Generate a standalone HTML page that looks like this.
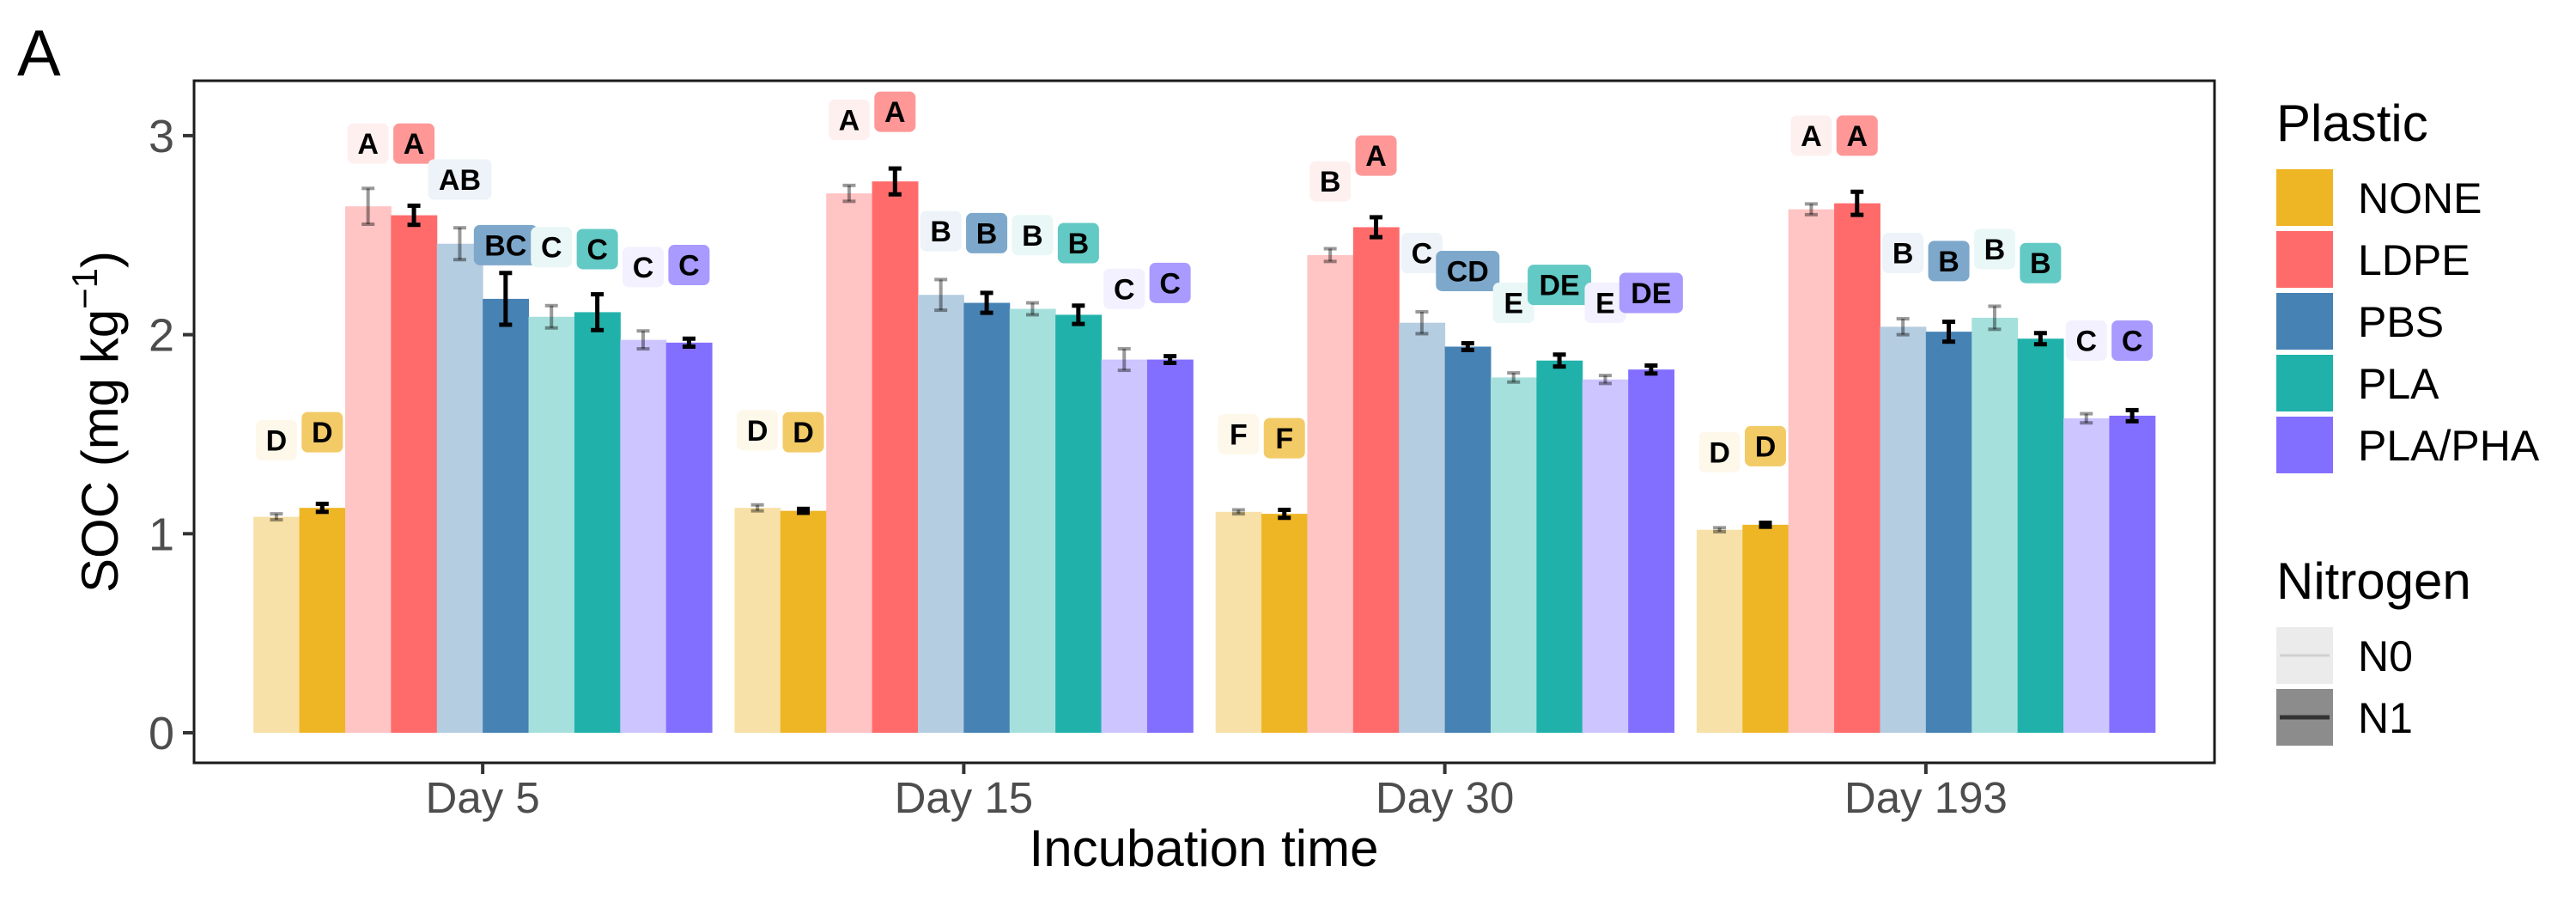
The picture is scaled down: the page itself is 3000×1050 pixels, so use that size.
<!DOCTYPE html>
<html><head><meta charset="utf-8">
<style>
html,body{margin:0;padding:0;background:#fff;}
svg{display:block;font-family:"Liberation Sans",Arial,sans-serif;}
</style></head>
<body>
<svg id="chart" width="3000" height="1050" viewBox="0 0 3000 1050" xmlns="http://www.w3.org/2000/svg">
  <rect x="0" y="0" width="3000" height="1050" fill="#fff"/>
  <text x="20" y="88" font-size="76" fill="#000">A</text>
  <g id="plot"></g>
  <rect x="226" y="94" width="2353" height="794" fill="none" stroke="#1a1a1a" stroke-width="3"/>
  <text transform="translate(137,491) rotate(-90)" text-anchor="middle" font-size="60" fill="#000">SOC (mg kg<tspan dy="-24" font-size="42">−1</tspan><tspan dy="24">)</tspan></text>
  <text x="1402" y="1008" text-anchor="middle" font-size="60" fill="#000">Incubation time</text>
  <g id="legend">
    <text x="2651" y="164" font-size="60" fill="#000">Plastic</text>
    <text x="2651" y="697" font-size="60" fill="#000">Nitrogen</text>
    <rect x="2651" y="730" width="66" height="66" fill="#ebebeb"/>
    <line x1="2655" y1="763" x2="2713" y2="763" stroke="#d0d0d0" stroke-width="3"/>
    <text x="2746" y="781" font-size="50" fill="#000">N0</text>
    <rect x="2651" y="802" width="66" height="66" fill="#8c8c8c"/>
    <line x1="2655" y1="835" x2="2713" y2="835" stroke="#333" stroke-width="5"/>
    <text x="2746" y="853" font-size="50" fill="#000">N1</text>
  </g>
</svg>
<script>
const days = ["Day 5","Day 15","Day 30","Day 193"];
const plastics = ["NONE","LDPE","PBS","PLA","PLA/PHA"];
const nitrogen = ["N0","N1"];
const plasticColors = ["#EEB525","#FF6B6B","#4682B4","#20B2AA","#836FFF"];
const yTicks = [0,1,2,3];
// order per day: NONE N0, NONE N1, LDPE N0, LDPE N1, PBS N0, PBS N1, PLA N0, PLA N1, PHA N0, PHA N1
const meanDay5   = [1.085,1.13,2.645,2.60,2.457,2.18,2.09,2.113,1.974,1.96];
const meanDay15  = [1.13,1.115,2.71,2.77,2.20,2.16,2.13,2.10,1.875,1.875];
const meanDay30  = [1.11,1.10,2.40,2.54,2.06,1.94,1.785,1.87,1.775,1.825];
const meanDay193 = [1.02,1.045,2.63,2.66,2.04,2.015,2.085,1.98,1.58,1.593];
const seDay5   = [0.015,0.02,0.09,0.048,0.08,0.13,0.056,0.09,0.045,0.02];
const seDay15  = [0.015,0.01,0.04,0.065,0.077,0.05,0.03,0.046,0.054,0.017];
const seDay30  = [0.01,0.02,0.032,0.05,0.055,0.017,0.023,0.03,0.02,0.02];
const seDay193 = [0.01,0.01,0.027,0.058,0.04,0.05,0.058,0.028,0.023,0.028];
const letterDay5   = ["D","D","A","A","AB","BC","C","C","C","C"];
const letterDay15  = ["D","D","A","A","B","B","B","B","C","C"];
const letterDay30  = ["F","F","B","A","C","CD","E","DE","E","DE"];
const letterDay193 = ["D","D","A","A","B","B","B","B","C","C"];
const labelYDay5   = [1.47,1.51,2.96,2.96,2.78,2.45,2.44,2.43,2.34,2.35];
const labelYDay15  = [1.52,1.51,3.08,3.12,2.52,2.51,2.50,2.46,2.23,2.26];
const labelYDay30  = [1.50,1.48,2.77,2.90,2.41,2.32,2.16,2.25,2.16,2.21];
const labelYDay193 = [1.41,1.44,3.00,3.00,2.41,2.37,2.43,2.36,1.97,1.97];

const means = [meanDay5,meanDay15,meanDay30,meanDay193];
const ses = [seDay5,seDay15,seDay30,seDay193];
const letters = [letterDay5,letterDay15,letterDay30,letterDay193];
const labelYs = [labelYDay5,labelYDay15,labelYDay30,labelYDay193];

const NS = "http://www.w3.org/2000/svg";
const PL = 226, PR = 2579, PT = 94, PB = 888;
const Y0 = 853, YUNIT = 231.7;
const yScale = v => Y0 - v * YUNIT;
const band = (PR - PL) / (days.length + 0.2);
const xCenter = i => PL + band * (0.6 + i);
const groupW = band * 0.953;
const barW = groupW / 10;
const xBar = (d, k) => xCenter(d) - groupW / 2 + k * barW;

function mk(tag, attrs, parent) {
  const el = document.createElementNS(NS, tag);
  for (const k in attrs) el.setAttribute(k, attrs[k]);
  parent.appendChild(el);
  return el;
}
function rgba(hex, a) {
  const r = parseInt(hex.slice(1,3),16), g = parseInt(hex.slice(3,5),16), b = parseInt(hex.slice(5,7),16);
  const m = c => Math.round(c * a + 255 * (1 - a));
  return "rgb(" + m(r) + "," + m(g) + "," + m(b) + ")";
}
const svg = document.getElementById("chart");
const plot = document.getElementById("plot");

yTicks.forEach(t => {
  const y = yScale(t);
  const ln = mk("line", {x1: 213, x2: 226, y1: y, y2: y, stroke: "#333", "stroke-width": 4}, svg);
  
  
  const tx = mk("text", {x: 203, y: y + 19, "text-anchor": "end", "font-size": 54, fill: "#4d4d4d"}, svg);
  tx.textContent = t;
  
  
});
days.forEach((d, i) => {
  const x = xCenter(i);
  const ln = mk("line", {x1: x, x2: x, y1: 888, y2: 901, stroke: "#333", "stroke-width": 4}, svg);
  
  
  const tx = mk("text", {x: x, y: 946, "text-anchor": "middle", "font-size": 51, fill: "#4d4d4d"}, svg);
  tx.textContent = d;
  
  
});

days.forEach((d, di) => {
  for (let k = 0; k < 10; k++) {
    const p = Math.floor(k / 2), n = k % 2;
    const col = plasticColors[p];
    const v = means[di][k], se = ses[di][k];
    const x = xBar(di, k);
    const fill = n === 0 ? rgba(col, 0.4) : col;
    const bar = mk("rect", {x: x, y: yScale(v), width: barW + 0.5, height: yScale(0) - yScale(v), fill: fill}, plot);
    
    
    const cx = x + barW / 2;
    const ec = n === 0 ? "rgba(0,0,0,0.4)" : "#000";
    const ew = n === 0 ? 4 : 5;
    const g = mk("g", {stroke: ec, "stroke-width": ew}, plot);
    
    
    mk("line", {x1: cx, x2: cx, y1: yScale(v + se), y2: yScale(v - se)}, g);
    mk("line", {x1: cx - 7.5, x2: cx + 7.5, y1: yScale(v + se), y2: yScale(v + se)}, g);
    mk("line", {x1: cx - 7.5, x2: cx + 7.5, y1: yScale(v - se), y2: yScale(v - se)}, g);
    const txt = letters[di][k];
    const ly = yScale(labelYs[di][k]);
    const w = txt.length === 1 ? 48 : 74;
    const lg = mk("g", {}, plot);
    
    
    mk("rect", {x: cx - w / 2, y: ly - 23.5, width: w, height: 47, rx: 7, ry: 7, fill: rgba(col, n === 0 ? 0.1 : 0.7)}, lg);
    const t = mk("text", {x: cx, y: ly + 12, "text-anchor": "middle", "font-size": 34, "font-weight": "bold", fill: "#000"}, lg);
    t.textContent = txt;
  }
});

plastics.forEach((p, i) => {
  const y = 197 + i * 72;
  const r = mk("rect", {x: 2651, y: y, width: 66, height: 66, fill: plasticColors[i]}, document.getElementById("legend"));
  
  
  const t = mk("text", {x: 2746, y: y + 51, "font-size": 50, fill: "#000"}, document.getElementById("legend"));
  t.textContent = p;
  
  
});
</script>
</body></html>
